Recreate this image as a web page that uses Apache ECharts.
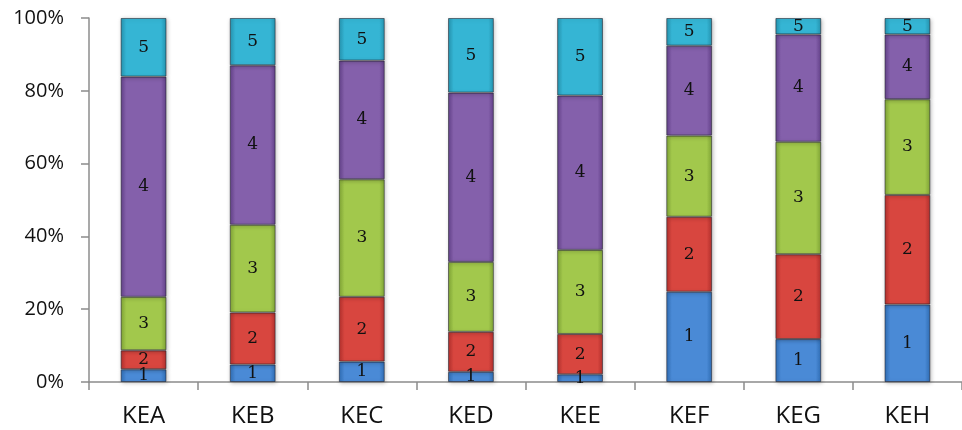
<!DOCTYPE html>
<html>
<head>
<meta charset="utf-8">
<script src="https://cdn.jsdelivr.net/npm/echarts@6/dist/echarts.min.js"></script>
<style>html,body{margin:0;padding:0;background:#fff}#c{width:962px;height:430px}</style>
</head>
<body>
<div id="c"></div>
<script>
var categories = ['KEA','KEB','KEC','KED','KEE','KEF','KEG','KEH'];
var seriesNames = ['1','2','3','4','5'];
var s1 = [3.5, 4.8, 5.6, 2.8, 2.1, 24.8, 11.8, 21.3];
var s2 = [5.2, 14.3, 17.8, 11.0, 11.1, 20.6, 23.3, 30.1];
var s3 = [14.7, 24.1, 32.3, 19.2, 23.1, 22.3, 30.9, 26.3];
var s4 = [60.5, 43.8, 32.6, 46.5, 42.4, 24.7, 29.5, 17.8];
var s5 = [16.1, 13.0, 11.7, 20.5, 21.3, 7.6, 4.5, 4.5];
var yTicks = [0, 20, 40, 60, 80, 100];

var baseColors = [
  ['#2f6db5','#4a8ad6','#2f6db5'],
  ['#b3302d','#d8463f','#b3302d'],
  ['#80a536','#a2c84c','#80a536'],
  ['#63418a','#8460ab','#63418a'],
  ['#2594b0','#35b5d4','#2594b0']
];
var data = [s1, s2, s3, s4, s5];

var chart = echarts.init(document.getElementById('c'));
var series = seriesNames.map(function (n, i) {
  var c = baseColors[i];
  return {
    name: n,
    type: 'bar',
    stack: 'total',
    barWidth: '42%',
    data: data[i],
    itemStyle: {
      color: new echarts.graphic.LinearGradient(0, 0, 1, 0, [
        {offset: 0, color: c[0]},
        {offset: 0.12, color: c[1]},
        {offset: 0.88, color: c[1]},
        {offset: 1, color: c[0]}
      ]),
      borderColor: 'rgba(30,30,40,0.55)',
      borderWidth: 1,
      shadowColor: 'rgba(0,0,0,0.25)',
      shadowBlur: 4,
      shadowOffsetX: 1,
      shadowOffsetY: 1
    },
    label: {
      show: true,
      position: 'inside',
      formatter: '{a}',
      color: '#111',
      fontFamily: 'DejaVu Serif',
      fontSize: 17
    }
  };
});

chart.setOption({
  animation: false,
  backgroundColor: '#fff',
  grid: {left: 89, right: -7, top: 18, bottom: 48, containLabel: false},
  xAxis: {
    type: 'category',
    data: categories,
    axisLine: {lineStyle: {color: '#8c8c8c', width: 1.5}},
    axisTick: {show: true, length: 8, lineStyle: {color: '#8c8c8c', width: 1.5}},
    axisLabel: {color: '#111', fontSize: 24, fontFamily: 'Open Sans', margin: 22}
  },
  yAxis: {
    type: 'value',
    min: yTicks[0],
    max: yTicks[yTicks.length - 1],
    interval: 20,
    splitLine: {show: false},
    axisLine: {show: true, lineStyle: {color: '#8c8c8c', width: 1.5}},
    axisTick: {show: true, length: 8, lineStyle: {color: '#8c8c8c', width: 1.5}},
    axisLabel: {color: '#111', fontSize: 20, fontFamily: 'Open Sans', margin: 25, formatter: '{value}%'}
  },
  series: series
});
</script>
</body>
</html>
